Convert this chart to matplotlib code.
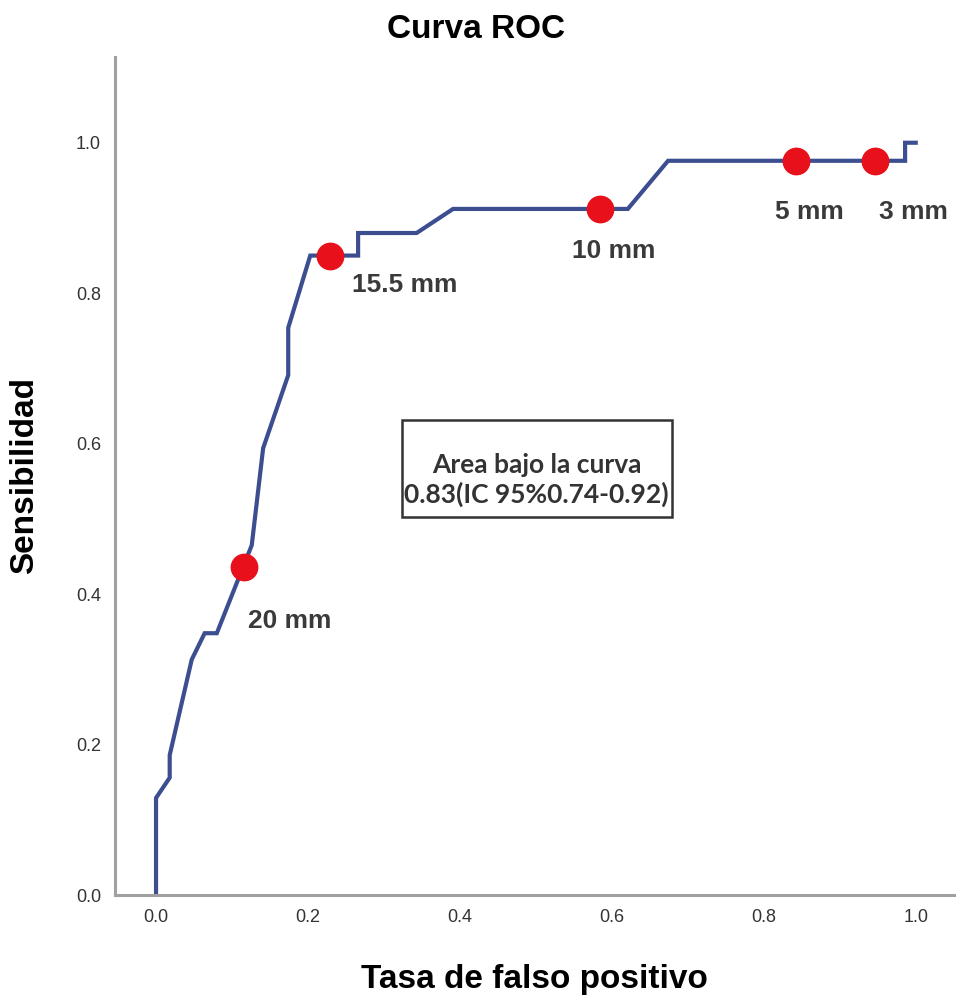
import matplotlib.pyplot as plt
from matplotlib.patches import Rectangle

# ROC curve vertices
fpr = [0.0, 0.0, 0.018, 0.018, 0.047, 0.064, 0.080, 0.126, 0.141, 0.174, 0.174,
       0.203, 0.266, 0.266, 0.343, 0.391, 0.621, 0.674, 0.986, 0.986, 1.0]
tpr = [0.0, 0.129, 0.156, 0.186, 0.313, 0.348, 0.348, 0.465, 0.594, 0.691, 0.754,
       0.850, 0.850, 0.880, 0.880, 0.912, 0.912, 0.976, 0.976, 1.0, 1.0]

# cut-off points
cut_fpr = [0.116, 0.229, 0.584, 0.842, 0.946]
cut_tpr = [0.436, 0.850, 0.912, 0.976, 0.976]
cut_labels = ['20 mm', '15.5 mm', '10 mm', '5 mm', '3 mm']
# label offsets in points (dx, dy)
cut_offsets = [(3, -39), (16, -21), (10, -30), (10, -37), (28, -37)]
cut_ha = ['left', 'left', 'center', 'center', 'center']

ticks = [0.0, 0.2, 0.4, 0.6, 0.8, 1.0]

line_col = '#3c4e90'
dot_col = '#e8101a'
spine_col = '#a0a0a0'

fig = plt.figure(figsize=(9.56, 9.96), dpi=100)
ax = fig.add_axes([0.1203, 0.1014, 0.8797, 0.8414])

ax.plot(fpr, tpr, color=line_col, lw=3.0, solid_joinstyle='miter', zorder=2)
ax.plot(cut_fpr, cut_tpr, 'o', color=dot_col, ms=19, mec=dot_col, zorder=3)

for x, y, lab, off, ha in zip(cut_fpr, cut_tpr, cut_labels, cut_offsets, cut_ha):
    ax.annotate(lab, (x, y), xytext=off, textcoords='offset points',
                ha=ha, va='center', fontsize=19, fontweight='bold',
                color='#3a3a3a', family='Liberation Sans')

ax.set_xlim(-0.054, 1.053)
ax.set_ylim(0, 1.114)
ax.set_xticks(ticks)
ax.set_yticks(ticks)
ax.set_xticklabels(['%.1f' % t for t in ticks])
ax.set_yticklabels(['%.1f' % t for t in ticks])
ax.tick_params(length=0, labelsize=13, labelcolor='#333333', pad=10)
for lab in ax.get_xticklabels() + ax.get_yticklabels():
    lab.set_family('Liberation Sans')

for s in ['top', 'right']:
    ax.spines[s].set_visible(False)
for s in ['left', 'bottom']:
    ax.spines[s].set_color(spine_col)
    ax.spines[s].set_linewidth(2.2)

# AUC box
box = Rectangle((0.324, 0.503), 0.355, 0.128, transform=ax.transData,
                fill=False, edgecolor='#333333', lw=1.8, zorder=4)
ax.add_patch(box)
ax.text(0.501, 0.572, 'Area bajo la curva', ha='center', va='center',
        fontsize=19, fontweight='bold', color='#333333', family='Lato')
ax.text(0.501, 0.533, '0.83(IC 95%0.74-0.92)', ha='center', va='center',
        fontsize=19, fontweight='bold', color='#333333', family='Lato')

fig.text(476 / 956, 1 - 30 / 996, 'Curva ROC', ha='center', va='center',
         fontsize=24, fontweight='bold', family='Liberation Sans')
fig.text(534 / 956, 1 - 979 / 996, 'Tasa de falso positivo', ha='center', va='center',
         fontsize=24, fontweight='bold', family='Liberation Sans')
fig.text(25 / 956, 1 - 475 / 996, 'Sensibilidad', ha='center', va='center',
         rotation=90, fontsize=24, fontweight='bold', family='Liberation Sans')

fig.savefig('out.png', dpi=100)
